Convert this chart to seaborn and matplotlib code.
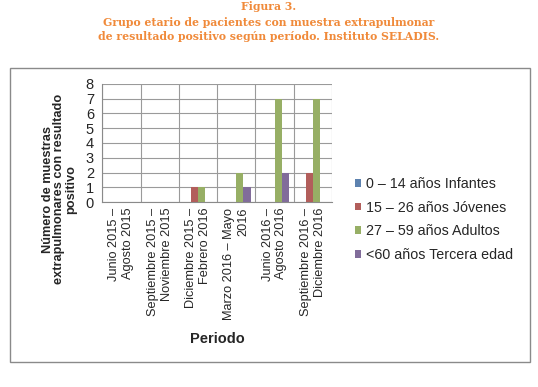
import numpy as np
import pandas as pd
import seaborn as sns
import matplotlib.pyplot as plt
from matplotlib.patches import Rectangle

# == Data == #
periodos = ['Junio 2015 –\nAgosto 2015',
            'Septiembre 2015 –\nNoviembre 2015',
            'Diciembre 2015 –\nFebrero 2016',
            'Marzo 2016 – Mayo\n2016',
            'Junio 2016 –\nAgosto 2016',
            'Septiembre 2016 –\nDiciembre 2016']
grupos = ['0 – 14 años Infantes', '15 – 26 años Jóvenes',
          '27 – 59 años Adultos', '<60 años Tercera edad']
infantes = [0, 0, 0, 0, 0, 0]
jovenes = [0, 0, 1, 0, 0, 2]
adultos = [0, 0, 1, 2, 7, 7]
tercera = [0, 0, 0, 1, 2, 0]
colores = ['#4F81BD', '#C0504D', '#9BBB59', '#8064A2']

rows = []
for g, vals in zip(grupos, [infantes, jovenes, adultos, tercera]):
    for p, v in zip(periodos, vals):
        rows.append({'Periodo': p, 'Grupo': g, 'n': v})
df = pd.DataFrame(rows)

sns.set_style('white')
plt.rcParams['font.family'] = ['Liberation Sans', 'DejaVu Sans']

fig = plt.figure(figsize=(5.38, 3.87), dpi=100)
ax = fig.add_axes([0.19, 0.478, 0.427, 0.305])

sns.barplot(data=df, x='Periodo', y='n', hue='Grupo', palette=colores,
            width=0.75, ax=ax, edgecolor='none', zorder=3)

# == grid and axes == #
ax.set_ylim(0, 8)
ax.set_yticks(range(0, 9))
ax.set_xlim(-0.5, 5.5)
ax.set_xticks(np.arange(-0.5, 6, 1), minor=True)
ax.grid(False)
ax.yaxis.grid(True, color='#9a9a9a', linewidth=0.8, zorder=0)
ax.xaxis.grid(True, which='minor', color='#9a9a9a', linewidth=0.8, zorder=0)
for s in ['top', 'right']:
    ax.spines[s].set_visible(False)
for s in ['left', 'bottom']:
    ax.spines[s].set_color('#8a8a8a')
ax.tick_params(axis='y', labelsize=10.5, length=4, color='#8a8a8a', pad=2)
ax.tick_params(axis='x', which='major', length=0, labelsize=9.2, rotation=90, pad=4)
ax.tick_params(axis='x', which='minor', length=5, color='#8a8a8a', direction='out')
for t in ax.get_xticklabels():
    t.set_ha('center')
    t.set_va('top')
    t.set_multialignment('right')

ax.set_xlabel('Periodo', fontsize=10.5, fontweight='bold', labelpad=9)
ax.set_ylabel('Número de muestras\nextrapulmonares con resultado\npositivo',
              fontsize=9.2, fontweight='bold', linespacing=0.95)
ax.yaxis.set_label_coords(-0.11, 0.11)

ax.legend(loc='center left', bbox_to_anchor=(1.1, -0.148), frameon=False,
          fontsize=10.3, handlelength=0.45, handleheight=0.45, handletextpad=0.3,
          labelspacing=0.68, borderpad=0, borderaxespad=0)

# == chart frame == #
fig.patches.append(Rectangle((10 / 538, 1 - 362 / 387), 520 / 538, 294 / 387,
                             transform=fig.transFigure, fill=False,
                             edgecolor='#8a8a8a', linewidth=1))

# == title == #
titulo = ['Figura 3.',
          'Grupo etario de pacientes con muestra extrapulmonar',
          'de resultado positivo según período. Instituto SELADIS.']
for y, linea in zip([7, 22, 36], titulo):
    fig.text(0.5, 1 - y / 387, linea, ha='center', va='center',
             color='#F08A3A', fontsize=7.8, fontweight='bold',
             family='DejaVu Serif')

plt.savefig('out.png', dpi=100)
